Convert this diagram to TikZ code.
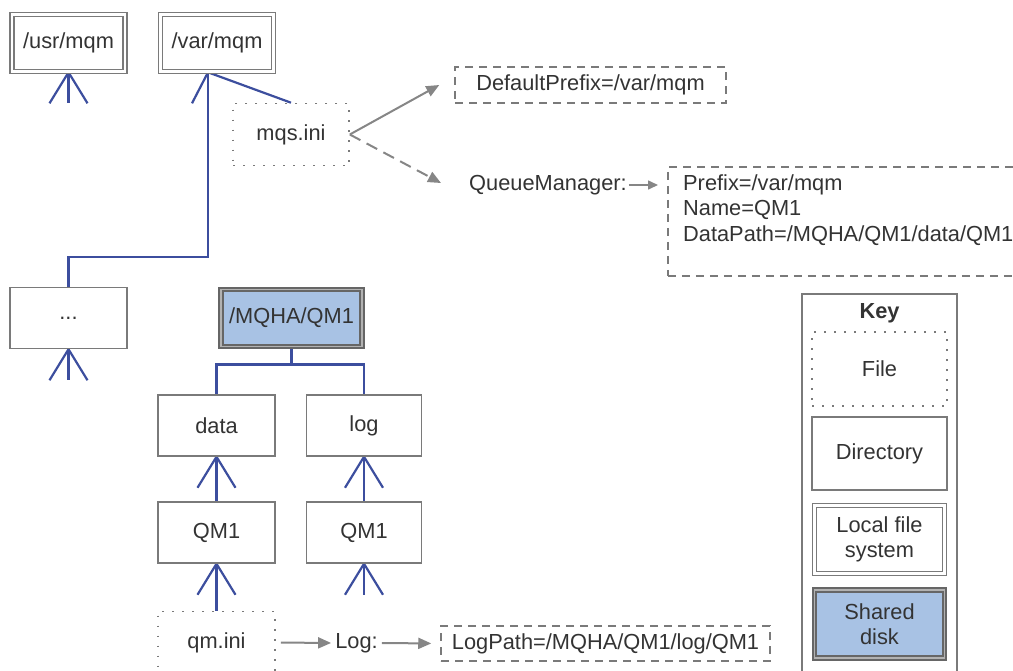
\documentclass[tikz,border=0pt]{standalone}
\usepackage{fontspec}
\setmainfont{Liberation Sans}
\usetikzlibrary{arrows.meta,backgrounds}

\definecolor{diskblue}{HTML}{A8C2E4}
\definecolor{linkblue}{HTML}{3C4E9E}
\definecolor{boxgray}{HTML}{7A7A7A}
\definecolor{arrowgray}{HTML}{868686}

\tikzset{
  base/.style={inner sep=0pt, text=black!80, align=center,
    font=\fontsize{21.8}{25.5}\selectfont},
  dirbox/.style={base, draw=boxgray, line width=1.5pt,
    minimum width=117pt, minimum height=61pt},
  filebox/.style={base, draw=boxgray, line width=1.6pt,
    dash pattern=on 1.6pt off 8.4pt, minimum width=116pt, minimum height=62pt},
  fsbox/.style={base, draw=boxgray, double=white, line width=1.6pt,
    double distance=2.6pt, minimum width=113pt, minimum height=57pt},
  diskbox/.style={base, draw=black!60, double=black!30, line width=2pt,
    double distance=1.2pt, fill=diskblue, minimum width=141pt, minimum height=57pt},
  valbox/.style={base, draw=boxgray, line width=1.5pt, dash pattern=on 8pt off 6pt},
  link/.style={draw=linkblue, line width=2.2pt},
  flow/.style={draw=arrowgray, line width=2pt, -{Triangle[length=13pt,width=11pt]}},
}

\begin{document}
\begin{tikzpicture}[x=1pt, y=-1pt]
  \useasboundingbox (0,0) rectangle (1013,670);
  \clip (0,0) rectangle (1013,670);

  % Local file systems and directories
  \node[fsbox] (usr) at (68.5,43) {/usr/mqm};
  \node[fsbox] (var) at (217,43) {/var/mqm};
  \node[filebox] (mqs) at (291,134.5) {mqs.ini};
  \node[dirbox] (dots) at (68.5,318) {...};

  % Shared disk tree
  \node[diskbox] (mqha) at (291.5,318) {/MQHA/QM1};
  \node[dirbox] (data) at (216.5,425.5) {data};
  \node[dirbox, minimum width=115pt] (log) at (364,425.5) {log};
  \node[dirbox] (qmd) at (216.5,532.5) {QM1};
  \node[dirbox, minimum width=115pt] (qml) at (364,532.5) {QM1};
  \node[filebox, minimum width=117pt] (qmini) at (216.5,642.5) {qm.ini};

  % Stanzas
  \node[valbox, minimum width=271pt, minimum height=36pt] (defpfx) at (590.5,85) {DefaultPrefix=/var/mqm};
  \node[base, anchor=west] (qmword) at (469,185) {QueueManager:};
  \node[valbox, anchor=north west, minimum width=370pt, minimum height=109pt] (qmsect) at (667,166) {};
  \node[base, anchor=north west, align=left] (qmtext) at (683,174)
    {Prefix=/var/mqm\\Name=QM1\\DataPath=/MQHA/QM1/data/QM1};
  \node[base] (logword) at (356.5,643) {Log:};
  \node[valbox, minimum width=329pt, minimum height=35pt] (logpath) at (605.5,643.5) {LogPath=/MQHA/QM1/log/QM1};

  % Key
  \node[draw=boxgray, line width=1.5pt, anchor=north, minimum width=155pt, minimum height=420pt] (keybox) at (879.5,293) {};
  \node[base, font=\bfseries\fontsize{21.8}{25.5}\selectfont] (keytitle) at (879.5,313) {Key};
  \node[filebox, minimum width=135pt, minimum height=74pt] (kfile) at (879.5,369) {File};
  \node[dirbox, minimum width=135pt, minimum height=73pt] (kdir) at (879.5,453.5) {Directory};
  \node[fsbox, minimum width=130pt, minimum height=68pt] (klocal) at (879.5,539.5) {Local file\\system};
  \node[diskbox, minimum width=130pt, minimum height=68pt] (kshared) at (879.5,624) {Shared\\disk};

  % Blue links
  \begin{scope}[on background layer]
    \foreach \n in {usr,dots,data,log,qmd,qml}
      \draw[link] (\n.south) -- ++(-19,31) (\n.south) -- ++(19,31);
    \foreach \n in {usr,dots,qml}
      \draw[link] (\n.south) -- ++(0,31);
    \draw[link] (data.south) -- (qmd.north);
    \draw[link] (log.south) -- (qml.north);
    \draw[link] (qmd.south) -- (qmini.north);
    \draw[link] ([xshift=-9pt]var.south) -- ++(-16,31);
    \draw[link] ([xshift=-9pt]var.south) -- (mqs.north);
    \draw[link] ([xshift=-9pt]var.south) |- ([yshift=30pt]dots.north) -- (dots.north);
    \draw[link] (mqha.south) -- ++(0,17) -| (data.north);
    \draw[link] (mqha.south) -- ++(0,17) -| (log.north);
  \end{scope}

  % Grey arrows
  \draw[flow] (mqs.east) -- ([xshift=-15pt]defpfx.west);
  \draw[flow, dash pattern=on 12pt off 7pt] (mqs.east) -- ([xshift=-28pt,yshift=2pt]qmword.west);
  \draw[flow, line width=1.6pt, -{Triangle[length=10pt,width=9pt]}, shorten <=2pt, shorten >=9pt]
    (qmword.east) -- (qmword.east -| qmsect.west);
  \draw[flow, shorten <=5pt, shorten >=4pt] (qmini.east) -- (logword.west);
  \draw[flow, shorten <=4pt, shorten >=9pt] (logword.east) -- (logpath.west);
\end{tikzpicture}
\end{document}
